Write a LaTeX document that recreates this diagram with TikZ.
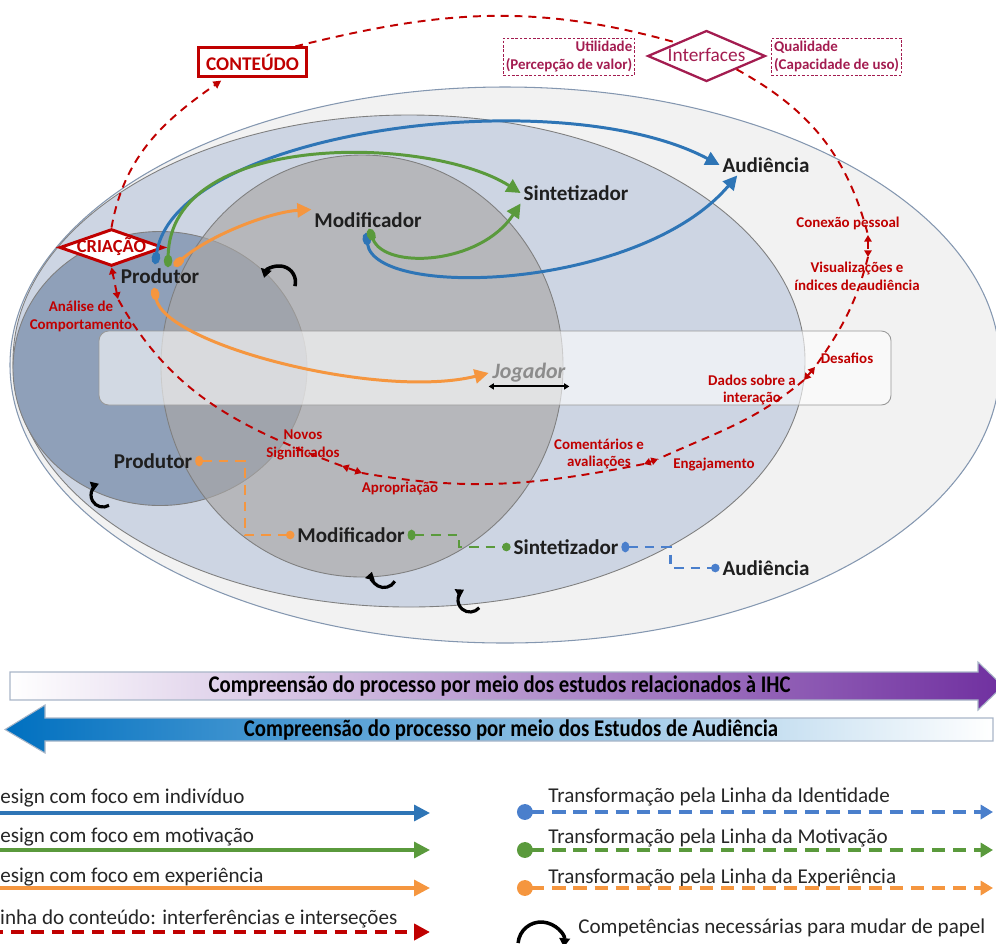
\documentclass[tikz,border=0pt]{standalone}
\usepackage{fontspec}
\setmainfont{Carlito}
\newfontfamily\barfont[FakeStretch=0.87]{Carlito}
\usetikzlibrary{arrows.meta,shapes.geometric,calc}

\definecolor{conteudored}{HTML}{C00000}
\definecolor{interfmag}{HTML}{A31C50}
\definecolor{indblue}{HTML}{2E75B6}
\definecolor{transblue}{HTML}{4A7FCC}
\definecolor{motgreen}{HTML}{5A9A3C}
\definecolor{exporange}{HTML}{F5963F}
\definecolor{outerfill}{HTML}{F2F2F2}
\definecolor{midfill}{HTML}{CDD5E3}
\definecolor{prodfill}{HTML}{8FA0B9}
\definecolor{modfill}{HTML}{AAA7A5}
\definecolor{rimgray}{HTML}{7F7F7F}
\definecolor{rimblue}{HTML}{8497B0}
\definecolor{ihcpurple}{HTML}{7030A0}
\definecolor{ihcmid}{HTML}{D9C3E6}
\definecolor{audblue}{HTML}{0070C0}
\definecolor{audmid}{HTML}{9DC3E6}
\definecolor{jogray}{HTML}{8C8C8C}

\tikzset{
  role/.style={font=\fontsize{12}{14}\selectfont\bfseries, text=black!88, inner sep=1.5pt},
  redlabel/.style={font=\fontsize{8.5}{10.2}\selectfont\bfseries, text=conteudored, align=center, inner sep=0pt},
  infobox/.style={draw=interfmag, line width=0.5pt, dash pattern=on 1.5pt off 1pt, inner sep=1.5pt, minimum height=21pt, font=\fontsize{8.5}{10.2}\selectfont\bfseries, text=interfmag},
  contline/.style={conteudored, line width=1.1pt, dash pattern=on 4.5pt off 3.4pt, >={Triangle[length=4.5pt,width=4.5pt]}},
  contpair/.style={contline, <->, >={Triangle[length=3.8pt,width=4.2pt]}},
  flow/.style={line width=1.7pt, arrows={Ellipse[length=7pt,width=4.8pt]-Triangle[length=8pt,width=8pt]}},
  transf/.style={line width=1.4pt, dash pattern=on 5.5pt off 4pt, arrows={Ellipse[length=4.5pt,width=6pt]-Circle[length=4.8pt]}},
  compet/.style={line width=2pt, -{Triangle[length=5pt,width=6pt]}},
  competsm/.style={line width=1.8pt, -{Triangle[length=4.5pt,width=5.5pt]}},
  leg/.style={font=\fontsize{12}{14}\selectfont, text=black!85, inner sep=0pt},
  legline/.style={line width=1.9pt, -{Triangle[length=9pt,width=9pt]}},
  legdash/.style={line width=1.8pt, dash pattern=on 7.5pt off 4.5pt, arrows={Circle[length=9pt]-Triangle[length=7pt,width=8pt]}},
  bartext/.style={font=\barfont\fontsize{13.6}{15}\selectfont\bfseries, inner sep=0pt},
}

\begin{document}
\begin{tikzpicture}[scale=0.2]
\useasboundingbox (0,0) rectangle (99.6,-94.3);
\clip (0,0) rectangle (99.6,-94.3);

% role spheres
\draw[rimblue, line width=0.6pt, fill=outerfill] (50.5,-36.5) ellipse (49.5 and 27.8);
\draw[rimgray, line width=0.5pt, fill=midfill] (40.9,-36.1) ellipse (39.6 and 24.6);
\draw[rimgray, line width=0.5pt, fill=prodfill] (16.0,-36.85) ellipse (14.7 and 13.7);
\draw[rimgray, line width=0.5pt, fill=modfill, fill opacity=0.63] (36.2,-36.6) ellipse (20.1 and 21.1);
\draw[rimgray!80, line width=0.5pt, fill=white, fill opacity=0.6, rounded corners=5.5pt] (9.9,-33.1) rectangle (89.1,-40.5);

% roles
\node[role] (aud1) at (76.6,-16.5) {Audiência};
\node[role] (sin1) at (57.6,-19.3) {Sintetizador};
\node[role] (mod1) at (36.8,-22.0) {Modificador};
\node[role] (prod1) at (16.0,-27.6) {Produtor};
\node[role] (prod2) at (15.3,-46.1) {Produtor};
\node[role] (mod2) at (35.1,-53.5) {Modificador};
\node[role] (sin2) at (56.6,-54.7) {Sintetizador};
\node[role] (aud2) at (76.6,-56.8) {Audiência};
\node[font=\fontsize{12.5}{14}\selectfont\bfseries\itshape, text=jogray, inner sep=2pt] (jog) at (52.9,-37.3) {Jogador};
\draw[line width=1.2pt, {Triangle[length=3pt,width=3.5pt]}-{Triangle[length=3pt,width=3.5pt]}] (jog.south west) -- (jog.south east);

% content line labels
\node[draw=conteudored, line width=1.7pt, fill=white, minimum width=61pt, minimum height=16pt, font=\fontsize{11}{13}\selectfont\bfseries, text=conteudored] (cont) at (25.25,-6.2) {CONTEÚDO};
\node[diamond, draw=conteudored, line width=1.7pt, fill=white, aspect=2.7, minimum width=59pt, minimum height=21pt, inner sep=0pt, text height=6pt, text depth=0pt, font=\fontsize{10.5}{12}\selectfont\bfseries, text=conteudored] (cria) at (11.15,-24.75) {CRIAÇÃO};
\node[diamond, draw=interfmag, line width=1.3pt, fill=white, aspect=2.25, minimum width=67pt, minimum height=29pt, inner sep=0pt, text height=7pt, text depth=1pt, font=\fontsize{11}{13}\selectfont, text=interfmag] (intf) at (70.65,-5.6) {Interfaces};
\node[infobox, align=right, minimum width=75pt] (util) at (56.9,-5.65) {Utilidade\\(Percepção de valor)};
\node[infobox, align=left, minimum width=74pt] (qual) at (83.65,-5.65) {Qualidade\\(Capacidade de uso)};

\node[redlabel] (conex) at (84.8,-22.3) {Conexão pessoal};
\node[redlabel] (visu) at (85.7,-27.6) {Visualizações e\\índices de audiência};
\node[redlabel] (desaf) at (84.7,-35.8) {Desafios};
\node[redlabel] (dados) at (75.2,-39.0) {Dados sobre a\\interação};
\node[redlabel] (coment) at (59.9,-45.4) {Comentários e\\avaliações};
\node[redlabel] (engaj) at (71.4,-46.5) {Engajamento};
\node[redlabel] (novos) at (30.3,-44.5) {Novos\\Significados};
\node[redlabel] (aprop) at (40.0,-48.8) {Apropriação};
\node[redlabel] (analise) at (8.1,-31.6) {Análise de\\Comportamento};

\coordinate (ix1) at ($(intf.west)!.5!(intf.north)$);
\coordinate (ix2) at ($(intf.east)!.5!(intf.south)$);
\coordinate (cx1) at (86.8,-23.5);
\coordinate (cx2) at (86.8,-25.7);
\coordinate (dx1) at (81.5,-36.7);
\coordinate (dx2) at (80.4,-38.0);
\coordinate (ex1) at (65.8,-45.9);
\coordinate (ex2) at (64.4,-46.4);
\coordinate (ax1) at (36.2,-47.3);
\coordinate (ax2) at (34.2,-46.6);
\coordinate (rx1) at (11.8,-29.9);

% content line
\draw[contline, ->, shorten >=3pt] (cria.north) to[out=80,in=-145] (cont.-150);
\draw[contline] (cont.20) .. controls (43.8,-1.1) and (53.2,-0.2) .. (ix1);
\draw[contline] (ix2) .. controls (80.9,-10.9) and (84.7,-15.5) .. (cx1);
\draw[contpair] (cx1) -- (cx2);
\draw[contline] (cx2) .. controls (85.6,-30.3) and (84.25,-32.8) .. (dx1);
\draw[contpair] (dx1) -- (dx2);
\draw[contline] (dx2) .. controls (75.4,-42.2) and (71.7,-43.2) .. (ex1);
\draw[contpair] (ex1) -- (ex2);
\draw[contline] (ex2) .. controls (53.6,-48.5) and (47.1,-49.2) .. (ax1);
\draw[contpair] (ax1) -- (ax2);
\draw[contline] (ax2) .. controls (23.9,-42.7) and (17.1,-39.4) .. (rx1);
\draw[contpair] (rx1) -- (cria.south);

% design flows
\coordinate (pb) at (15.5,-26.4);
\coordinate (pg) at (16.8,-26.7);
\coordinate (po) at (17.4,-26.6);
\coordinate (po2) at (15.4,-28.8);
\coordinate (mb) at (36.6,-23.3);
\coordinate (mg) at (36.9,-22.9);
\draw[flow, indblue] (pb) .. controls (17.5,-13.0) and (56.0,-8.0) .. (aud1.west);
\draw[flow, indblue] (mb) .. controls (37.5,-30.0) and (64.0,-29.0) .. (aud1.-160);
\draw[flow, motgreen] (pg) .. controls (17.0,-13.0) and (43.0,-13.5) .. (sin1.west);
\draw[flow, motgreen] (mg) .. controls (38.5,-27.0) and (48.0,-26.5) .. (sin1.south west);
\draw[flow, exporange] (po) .. controls (21.0,-23.5) and (27.0,-21.2) .. (mod1.north west);
\draw[flow, exporange] (po2) .. controls (16.5,-34.5) and (38.0,-40.0) .. (jog.west);

% transformations
\draw[transf, exporange] (prod2.east) -| ($(prod2.east)!.5!(mod2.west)$) |- (mod2.west);
\draw[transf, motgreen] (mod2.east) -| ($(mod2.east)!.5!(sin2.west)$) |- (sin2.west);
\draw[transf, transblue] (sin2.east) -| ($(sin2.east)!.5!(aud2.west)$) |- (aud2.west);

% competences
\draw[compet] (27.95,-28.2) ++(-15:1.6) arc (-15:165:1.6);
\draw[competsm] (10.3,-49.5) ++(-60:1.2) arc (-60:-250:1.2);
\draw[competsm] (38.4,-57.5) ++(-30:1.25) arc (-30:-195:1.25);
\draw[competsm] (47.0,-60.0) ++(-40:1.2) arc (-40:-240:1.2);

% understanding bars
\draw[rimblue!70, line width=0.6pt, left color=white, middle color=ihcmid, right color=ihcpurple] (1.0,-67.2) -- (97.8,-67.2) -- (97.8,-66.2) -- (100.3,-68.6) -- (97.8,-71.0) -- (97.8,-70.0) -- (1.0,-70.0) -- cycle;
\node[bartext] (ihc) at (49.95,-68.6) {Compreensão do processo por meio dos estudos relacionados à IHC};
\draw[rimblue!70, line width=0.6pt, left color=audblue, middle color=audmid, right color=white] (0.5,-72.95) -- (4.5,-70.5) -- (4.5,-71.8) -- (99.3,-71.8) -- (99.3,-74.1) -- (4.5,-74.1) -- (4.5,-75.3) -- cycle;
\node[bartext] (estaud) at (51.1,-72.95) {Compreensão do processo por meio dos Estudos de Audiência};

% legend
\node[leg, anchor=west] (lind) at (-1.3,-79.8) {Design com foco em indivíduo};
\node[leg, anchor=west] (lmot) at (-1.3,-83.7) {Design com foco em motivação};
\node[leg, anchor=west] (lexp) at (-1.3,-87.7) {Design com foco em experiência};
\node[leg, anchor=west] (lcon) at (-0.9,-91.9) {Linha do conteúdo: interferências e interseções};
\draw[legline, indblue] ($(lind.west)+(0,-1.5)$) -- ++(44.3,0);
\draw[legline, motgreen] ($(lmot.west)+(0,-1.3)$) -- ++(44.3,0);
\draw[legline, exporange] ($(lexp.west)+(0,-1.1)$) -- ++(44.3,0);
\draw[legline, conteudored, line width=2.3pt, dash pattern=on 7pt off 4.5pt] ($(lcon.west)+(0,-1.3)$) -- ++(43.9,0);

\node[leg, anchor=west] (lid) at (54.8,-79.7) {Transformação pela Linha da Identidade};
\node[leg, anchor=west] (lmo) at (54.8,-83.8) {Transformação pela Linha da Motivação};
\node[leg, anchor=west] (lex) at (54.8,-87.8) {Transformação pela Linha da Experiência};
\draw[legdash, transblue] ($(lid.west)+(-3.1,-1.5)$) -- ++(47.6,0);
\draw[legdash, motgreen] ($(lmo.west)+(-3.1,-1.2)$) -- ++(47.6,0);
\draw[legdash, exporange] ($(lex.west)+(-3.1,-1.0)$) -- ++(47.6,0);
\draw[compet] (54.1,-94.5) ++(175:2.3) arc (175:-5:2.3);
\node[leg, anchor=west] (lcp) at (57.8,-92.8) {Competências necessárias para mudar de papel};
\end{tikzpicture}
\end{document}
